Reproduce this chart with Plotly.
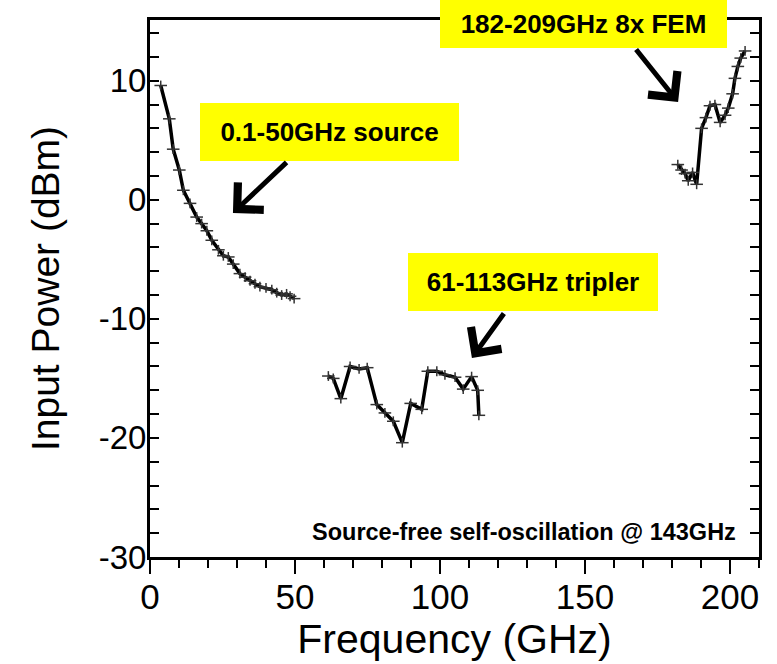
import plotly.graph_objects as go

# 0.1-50 GHz source
src_f = [3.7, 6.65, 8.0, 10.1, 11.5, 13.8, 16.1, 17.8, 19.6, 21.3, 23.6, 25.3, 27.0,
         28.7, 31.0, 32.8, 34.5, 36.2, 37.9, 40.0, 42.0, 43.7, 45.4, 47.1, 48.3, 49.7]
src_p = [9.6, 6.8, 4.25, 2.5, 0.8, -0.3, -1.45, -2.0, -2.6, -3.4, -4.2, -4.7, -4.8,
         -5.4, -6.2, -6.5, -6.8, -7.05, -7.3, -7.4, -7.55, -7.8, -8.0, -7.9, -8.1, -8.3]

# 61-113 GHz tripler
tri_f = [61.5, 63.2, 65.8, 69.0, 72.1, 74.9, 78.2, 81.0, 83.9, 87.0, 89.9, 93.7,
         95.8, 98.9, 101.7, 105.2, 108.0, 110.9, 113.0, 113.4]
tri_p = [-14.8, -15.0, -16.7, -14.0, -14.2, -14.1, -17.2, -17.9, -18.6, -20.4, -17.1,
         -17.6, -14.4, -14.4, -14.7, -14.9, -15.9, -14.85, -16.0, -18.1]

# 182-209 GHz 8x FEM
fem_f = [182.0, 183.3, 184.5, 185.6, 187.1, 188.5, 190.2, 191.7, 193.1, 194.8, 196.6,
         198.3, 199.4, 200.9, 201.7, 202.7, 203.7, 205.2]
fem_p = [2.96, 2.5, 2.2, 1.6, 2.3, 1.3, 6.0, 6.9, 7.9, 8.0, 6.5, 7.1, 7.7, 8.9, 10.2,
         11.2, 11.9, 12.5]

x_ticks = [0, 50, 100, 150, 200]
x_ticktext = ["0", "50", "100", "150", "200"]
y_ticks = [-30, -20, -10, 0, 10]
y_ticktext = ["-30", "-20", "-10", "0", "10"]

labels = ["0.1-50GHz source", "61-113GHz tripler", "182-209GHz 8x FEM"]
note = "Source-free self-oscillation @ 143GHz"

fig = go.Figure()
for fx, py in [(src_f, src_p), (tri_f, tri_p), (fem_f, fem_p)]:
    fig.add_trace(go.Scatter(x=fx, y=py, mode="lines",
                             line=dict(color="black", width=3.5), hoverinfo="skip"))
    fig.add_trace(go.Scatter(x=fx, y=py, mode="markers",
                             marker=dict(symbol="line-ew", size=9,
                                         line=dict(color="#333", width=1.5))))
    fig.add_trace(go.Scatter(x=fx, y=py, mode="markers",
                             marker=dict(symbol="line-ns", size=7,
                                         line=dict(color="#333", width=1.5))))

font_axis = "Liberation Sans, Arial, sans-serif"
lab_font = dict(family=font_axis, size=26, color="black", weight="bold")

# yellow label boxes
boxes = [(labels[0], 61.9, 5.69, 259, 58),
         (labels[1], 132.1, -6.90, 250, 58),
         (labels[2], 149.5, 14.76, 287, 48)]
for txt, bx, by, w, h in boxes:
    fig.add_annotation(x=bx, y=by, xref="x", yref="y", text=txt, showarrow=False,
                       bgcolor="#ffff00", width=w, height=h, borderpad=0,
                       borderwidth=0, font=lab_font)

# arrows (head x,y ; tail ax,ay)
arrows = [(28.6, -1.11, 47.6, 3.26), (111.0, -13.28, 122.4, -9.42),
          (182.1, 8.21, 167.2, 12.75)]
for hx, hy, tx, ty in arrows:
    fig.add_annotation(x=hx, y=hy, ax=tx, ay=ty, xref="x", yref="y", axref="x",
                       ayref="y", text="", showarrow=True, arrowhead=4,
                       arrowsize=1.45, arrowwidth=5, arrowcolor="black", standoff=0)

fig.add_annotation(x=202.8, y=-27.9, xref="x", yref="y", text=note, showarrow=False,
                   xanchor="right", yanchor="middle",
                   font=dict(family=font_axis, size=23.5, color="black", weight="bold"))

fig.update_layout(
    width=777, height=664, showlegend=False,
    margin=dict(l=150, r=18, t=20, b=107),
    plot_bgcolor="white", paper_bgcolor="white",
    font=dict(family=font_axis, color="black"),
)
fig.update_xaxes(range=[0, 210], showgrid=False, zeroline=False,
                 showline=True, linecolor="black", linewidth=3, mirror=True,
                 ticks="outside", ticklen=14, tickwidth=2, tickcolor="black",
                 tickvals=x_ticks, ticktext=x_ticktext, ticklabelstandoff=-7,
                 minor=dict(dtick=10, ticks="outside", ticklen=8, tickwidth=2,
                            tickcolor="black"),
                 tickfont=dict(size=35, family=font_axis),
                 title=dict(text="Frequency (GHz)", font=dict(size=41, family=font_axis),
                            standoff=6))
fig.update_yaxes(range=[-30, 15.1], showgrid=False, zeroline=False,
                 showline=True, linecolor="black", linewidth=3, mirror="ticks",
                 ticks="inside", ticklen=9, tickwidth=2, tickcolor="black",
                 tickvals=y_ticks, ticktext=y_ticktext, ticklabelstandoff=-6,
                 minor=dict(dtick=2, ticks="inside", ticklen=9, tickwidth=2,
                            tickcolor="black"),
                 tickfont=dict(size=33, family=font_axis),
                 title=dict(text="Input Power (dBm)", font=dict(size=39, family=font_axis),
                            standoff=28))

fig.write_html("out.html")
